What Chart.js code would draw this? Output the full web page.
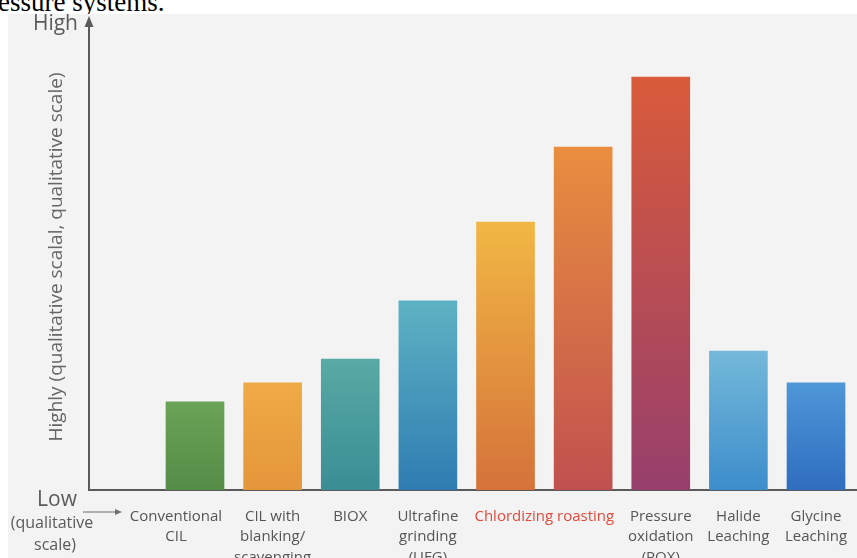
<!DOCTYPE html>
<html>
<head>
<meta charset="utf-8">
<script src="https://cdn.jsdelivr.net/npm/chart.js@4.4.1/dist/chart.umd.min.js"></script>
<style>
  html, body { margin: 0; padding: 0; background: #fff; overflow: hidden; }
  #page { position: relative; width: 857px; height: 558px; }
  #topText {
    position: absolute; left: -2px; top: -11px;
    font-family: "Liberation Serif", serif; font-size: 27px; line-height: 27px;
    color: #000; white-space: nowrap;
  }
  #panel {
    position: absolute; left: 8px; top: 14px; width: 849px; height: 544px;
    background: #f3f3f3;
  }
</style>
</head>
<body>
<div id="page">
  <div id="topText">essure systems.</div>
  <div id="panel"><canvas id="chart" width="849" height="544"></canvas></div>
</div>
<script>
// data
const barPositions = [1, 2, 3, 4, 5, 6, 7, 8, 9];
const barValues = [1.89, 2.30, 2.81, 4.06, 5.75, 7.36, 8.86, 2.98, 2.30];
const tickValues = [0.755, 2, 3, 4, 5.5, 7, 8, 9];
const tickLabels = [
  ["Conventional", "CIL"],
  ["CIL with", "blanking/", "scavenging"],
  ["BIOX"],
  ["Ultrafine", "grinding", "(UFG)"],
  ["Chlordizing roasting"],
  ["Pressure", "oxidation", "(POX)"],
  ["Halide", "Leaching"],
  ["Glycine", "Leaching"]
];
const xMin = -0.3655;
const xMax = 9.528;
const yMax = 10;
const yTitle = "Highly (qualitative scalal, qualitative scale)";

// bar colours (top -> bottom)
const topColors = ["#6aa257", "#f0aa45", "#58aaa5", "#5db3c3", "#f1b744", "#e98e3f", "#d95b3a", "#74b9da", "#4e97d8"];
const bottomColors = ["#558d47", "#e4963a", "#3a8d93", "#2e7cb2", "#d5723a", "#c0504f", "#973f6c", "#3c8dcb", "#2f6dbf"];

const grey = "#5a5a5a";
const labelFont = "'Open Sans', sans-serif";

function barGradient(ctx) {
  const chart = ctx.chart;
  const i = ctx.dataIndex;
  if (!chart.chartArea || i === undefined) return topColors[i] || grey;
  const y = chart.scales.y;
  const g = chart.ctx.createLinearGradient(0, y.getPixelForValue(barValues[i]), 0, y.getPixelForValue(0));
  g.addColorStop(0, topColors[i]);
  g.addColorStop(1, bottomColors[i]);
  return g;
}

// arrows and the Low / (qualitative scale) text
const extrasPlugin = {
  id: "extras",
  afterDraw(chart) {
    const ctx = chart.ctx;
    const y = chart.scales.y;
    const ax = y.right;
    const top = y.top;
    const bottom = y.bottom;
    ctx.save();
    // arrow head on the y axis
    ctx.fillStyle = grey;
    ctx.beginPath();
    ctx.moveTo(ax, top - 8);
    ctx.lineTo(ax - 4.5, top + 3);
    ctx.lineTo(ax + 4.5, top + 3);
    ctx.closePath();
    ctx.fill();

    // Low label block
    ctx.textAlign = "center";
    ctx.textBaseline = "middle";
    ctx.fillStyle = grey;
    ctx.font = "21px " + labelFont;
    ctx.fillText("Low", ax - 32, bottom + 10);
    ctx.font = "16px " + labelFont;
    ctx.fillText("(qualitative", ax - 37, bottom + 33);
    ctx.fillText("scale)", ax - 34, bottom + 55);

    // small arrow pointing to first category
    const ay = bottom + 22;
    ctx.strokeStyle = "#6f6f6f";
    ctx.lineWidth = 1.2;
    ctx.beginPath();
    ctx.moveTo(ax - 6, ay);
    ctx.lineTo(ax + 28, ay);
    ctx.stroke();
    ctx.fillStyle = "#6f6f6f";
    ctx.beginPath();
    ctx.moveTo(ax + 33, ay);
    ctx.lineTo(ax + 26, ay - 3);
    ctx.lineTo(ax + 26, ay + 3);
    ctx.closePath();
    ctx.fill();
    ctx.restore();
  }
};

const ctx = document.getElementById("chart").getContext("2d");
new Chart(ctx, {
  type: "bar",
  data: {
    datasets: [{
      data: barPositions.map((p, i) => ({ x: p, y: barValues[i] })),
      backgroundColor: barGradient,
      borderWidth: 0,
      barThickness: 58
    }]
  },
  options: {
    responsive: false,
    animation: false,
    layout: { padding: { top: 10, left: 0, right: 0, bottom: 0 } },
    plugins: {
      legend: { display: false },
      tooltip: { enabled: false }
    },
    scales: {
      x: {
        type: "linear",
        offset: false,
        bounds: "data",
        min: xMin,
        max: xMax,
        grid: { display: false, drawTicks: false, offset: false },
        border: { display: true, color: grey, width: 2 },
        afterDataLimits: (scale) => {
          scale.min = xMin;
          scale.max = xMax;
        },
        afterBuildTicks: (scale) => {
          scale.ticks = tickValues.map(v => ({ value: v }));
        },
        afterFit: (scale) => {
          scale.height = 68;
          scale.paddingLeft = 0;
          scale.paddingRight = 0;
        },
        ticks: {
          autoSkip: false,
          maxRotation: 0,
          padding: 16,
          color: (c) => (c.index === 4 ? "#e2493c" : "#555"),
          font: { family: labelFont, size: 15, lineHeight: 1.38 },
          callback: (value, index) => tickLabels[index]
        }
      },
      y: {
        min: 0,
        max: yMax,
        grid: { display: false, drawTicks: false },
        border: { display: true, color: grey, width: 2 },
        afterBuildTicks: (scale) => {
          scale.ticks = [{ value: yMax }];
        },
        afterFit: (scale) => {
          scale.width = 81;
          scale.paddingTop = 0;
          scale.paddingBottom = 0;
        },
        ticks: {
          padding: 11,
          color: grey,
          font: { family: labelFont, size: 21 },
          callback: () => "High"
        },
        title: {
          display: true,
          text: yTitle,
          color: "#666",
          font: { family: labelFont, size: 19 },
          padding: { top: 37, bottom: 0 }
        }
      }
    }
  },
  plugins: [extrasPlugin]
});
</script>
</body>
</html>
